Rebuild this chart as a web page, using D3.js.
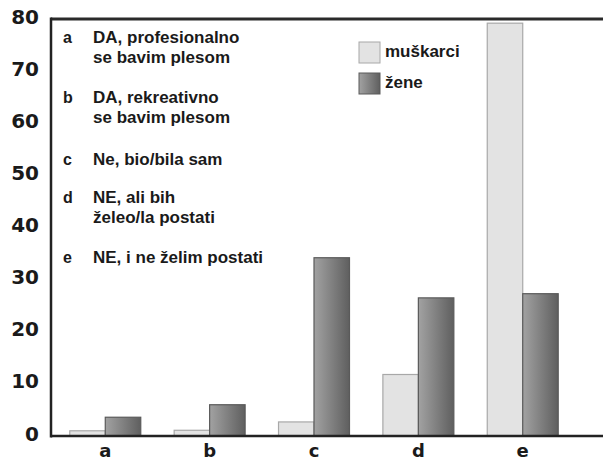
<!DOCTYPE html>
<html>
<head>
<meta charset="utf-8">
<script src="https://cdn.jsdelivr.net/npm/d3@7"></script>
<style>
  body { margin: 0; background: #fff; }
  svg { display: block; }
</style>
</head>
<body>
<div id="chart"></div>
<script>
// data (percent)
var categories = ["a", "b", "c", "d", "e"]
var muskarci = [1.0, 1.1, 2.7, 11.8, 79.2]
var zene = [3.6, 6.0, 34.2, 26.5, 27.3]
var seriesNames = ["muškarci", "žene"]
var yTicks = [0, 10, 20, 30, 40, 50, 60, 70, 80]

// answer key shown inside the plot
var keyLetters = ["a", "b", "c", "d", "e"]
var keyTexts = [
  ["DA, profesionalno", "se bavim plesom"],
  ["DA, rekreativno", "se bavim plesom"],
  ["Ne, bio/bila sam"],
  ["NE, ali bih", "želeo/la postati"],
  ["NE, i ne želim postati"]
]

var W = 603, H = 461
var plotL = 51, plotR = 603, plotT = 19, plotB = 436

var svg = d3.select("#chart").append("svg")
    .attr("width", W)
    .attr("height", H)

// gradient for the dark bars
var defs = svg.append("defs")
var grad = defs.append("linearGradient")
    .attr("id", "dark")
    .attr("x1", "0%").attr("x2", "100%")
    .attr("y1", "0%").attr("y2", "0%")
grad.append("stop").attr("offset", "0%").attr("stop-color", "#a2a2a2")
grad.append("stop").attr("offset", "100%").attr("stop-color", "#5f5f5f")

var y = d3.scaleLinear()
    .domain([0, 80])
    .range([plotB, plotT])

var x = d3.scaleBand()
    .domain(categories)
    .range([plotL, 577])
    .paddingInner(0.32)
    .paddingOuter(0.18)

var x1 = d3.scaleBand()
    .domain(seriesNames)
    .range([0, x.bandwidth()])

var rows = categories.map(function(c, i) {
  return { cat: c, vals: [muskarci[i], zene[i]] }
})

// bars
var groups = svg.selectAll(".grp")
    .data(rows)
    .enter().append("g")
    .attr("class", "grp")
    .attr("transform", function(d) { return "translate(" + x(d.cat) + ",0)" })

groups.selectAll("rect")
    .data(function(d) { return d.vals.map(function(v, j) { return { s: seriesNames[j], v: v } }) })
    .enter().append("rect")
    .attr("x", function(d) { return x1(d.s) })
    .attr("width", x1.bandwidth())
    .attr("y", function(d) { return y(d.v) })
    .attr("height", function(d) { return plotB - y(d.v) })
    .attr("fill", function(d) { return d.s == seriesNames[0] ? "#e3e3e3" : "url(#dark)" })
    .attr("stroke", function(d) { return d.s == seriesNames[0] ? "#a8a8a8" : "#5a5a5a" })
    .attr("stroke-width", 1.2)

// frame lines
svg.append("line")
    .attr("x1", plotL).attr("x2", plotR)
    .attr("y1", plotT).attr("y2", plotT)
    .attr("stroke", "#2a2a2a").attr("stroke-width", 3)
svg.append("line")
    .attr("x1", plotL).attr("x2", plotL)
    .attr("y1", plotT - 1.5).attr("y2", plotB + 1.5)
    .attr("stroke", "#222").attr("stroke-width", 2.5)
svg.append("line")
    .attr("x1", plotL).attr("x2", plotR)
    .attr("y1", plotB).attr("y2", plotB)
    .attr("stroke", "#222").attr("stroke-width", 2.5)

// y axis labels
var yAxis = svg.append("g")
    .attr("transform", "translate(" + plotL + ",0)")
    .call(d3.axisLeft(y).tickValues(yTicks).tickSize(0).tickPadding(12))
yAxis.select(".domain").remove()
yAxis.selectAll("text")
    .attr("dy", "0.2em")
    .style("font-family", "'DejaVu Sans', sans-serif")
    .style("font-weight", "bold")
    .style("font-size", "20px")
    .attr("fill", "#1a1a1a")

// x axis labels
var xAxis = svg.append("g")
    .attr("transform", "translate(0," + plotB + ")")
    .call(d3.axisBottom(x).tickSize(0).tickPadding(8))
xAxis.select(".domain").remove()
xAxis.selectAll("text")
    .style("font-family", "'DejaVu Sans', sans-serif")
    .style("font-weight", "bold")
    .style("font-size", "18px")
    .attr("fill", "#1a1a1a")

// key inside the plot
var keyY = [43, 103, 165, 203, 263]
var key = svg.append("g")
    .style("font-family", "'Liberation Sans', Arial, sans-serif")
    .style("font-weight", "bold")
    .attr("fill", "#1a1a1a")

keyLetters.forEach(function(l, i) {
  key.append("text")
      .attr("x", 63).attr("y", keyY[i])
      .style("font-size", "16px")
      .text(l)
  keyTexts[i].forEach(function(t, k) {
    key.append("text")
        .attr("x", 93).attr("y", keyY[i] + k * 19.5)
        .style("font-size", "17px")
        .text(t)
  })
})

// legend
var legend = svg.append("g").attr("transform", "translate(359,42)")
seriesNames.forEach(function(n, i) {
  legend.append("rect")
      .attr("x", 0).attr("y", i * 31)
      .attr("width", 21).attr("height", 21)
      .attr("fill", i == 0 ? "#e3e3e3" : "url(#dark)")
      .attr("stroke", i == 0 ? "#a8a8a8" : "#5a5a5a")
  legend.append("text")
      .attr("x", 26).attr("y", i * 31 + 15)
      .style("font-family", "'Liberation Sans', Arial, sans-serif")
      .style("font-weight", "bold")
      .style("font-size", "17px")
      .attr("fill", "#1a1a1a")
      .text(n)
})
</script>
</body>
</html>
